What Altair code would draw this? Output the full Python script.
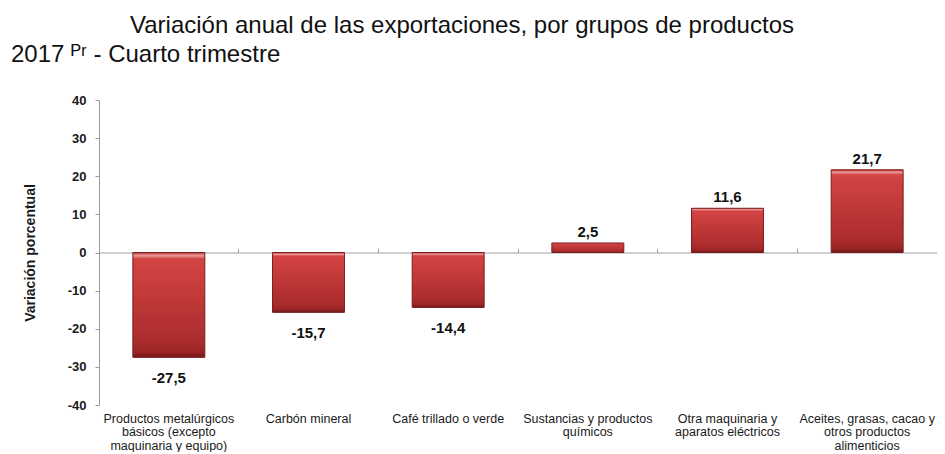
import altair as alt
import pandas as pd

categories = [
    "Productos metalúrgicos|básicos (excepto|maquinaria y equipo)",
    "Carbón mineral",
    "Café trillado o verde",
    "Sustancias y productos|químicos",
    "Otra maquinaria y|aparatos eléctricos",
    "Aceites, grasas, cacao y|otros productos|alimenticios",
]
values = [-27.5, -15.7, -14.4, 2.5, 11.6, 21.7]
y_ticks = [-40, -30, -20, -10, 0, 10, 20, 30, 40]

df = pd.DataFrame({"cat": categories, "val": values})
df["lbl"] = [f"{v:.1f}".replace(".", ",") for v in values]

FONT = "Liberation Sans"
W, H = 838, 305
P_IN = 0.485

xscale = alt.Scale(domain=categories, paddingInner=P_IN, paddingOuter=P_IN / 2)
yscale = alt.Scale(domain=[-40, 40], nice=False, zero=False)
yaxis = alt.Axis(
    values=y_ticks, title="Variación porcentual", grid=False,
    domainColor="#9a9a9a", tickColor="#9a9a9a", tickSize=4,
    labelFont=FONT, labelFontSize=13, labelFontWeight="bold", labelColor="#1a1a1a",
    labelPadding=9, labelExpr="'' + datum.value",
    titleFont=FONT, titleFontSize=14, titleFontWeight="bold",
    titleColor="#1a1a1a", titlePadding=30,
)

base = alt.Chart(df)

grad = alt.Gradient(
    gradient="linear", x1=0, x2=0, y1=0, y2=1,
    stops=[
        alt.GradientStop(offset=0, color="#b53232"),
        alt.GradientStop(offset=0.03, color="#ec9a9a"),
        alt.GradientStop(offset=0.06, color="#d44444"),
        alt.GradientStop(offset=0.85, color="#ab2c2c"),
        alt.GradientStop(offset=0.95, color="#9a2424"),
        alt.GradientStop(offset=1, color="#701818"),
    ],
)

bars = base.mark_bar(color=grad, stroke="#7a1c1c", strokeWidth=1).encode(
    x=alt.X("cat:N", sort=categories, scale=xscale, title=None,
            axis=alt.Axis(labelAngle=0, domain=False, ticks=False, labelPadding=7,
                          labelFont=FONT, labelFontSize=12.5, labelColor="#1a1a1a",
                          labelLimit=0, labelLineHeight=13.5, labelBaseline="top",
                          labelExpr="split(datum.label, '|')")),
    y=alt.Y("val:Q", scale=yscale, axis=yaxis),
)

pos = base.transform_filter("datum.val >= 0").mark_text(
    baseline="bottom", dy=-3, font=FONT, fontSize=15, fontWeight="bold", color="#111"
).encode(
    x=alt.X("cat:N", sort=categories, scale=xscale, title=None,
            axis=alt.Axis(labels=False, domain=True, ticks=True,
                          bandPosition=-P_IN / (2 * (1 - P_IN)),
                          offset=-H / 2, tickSize=4, domainColor="#a0a0a0",
                          tickColor="#a0a0a0")),
    y=alt.Y("val:Q", scale=yscale, axis=yaxis),
    text="lbl:N",
)

neg = base.transform_filter("datum.val < 0").mark_text(
    baseline="top", dy=14, font=FONT, fontSize=15, fontWeight="bold", color="#111"
).encode(
    x=alt.X("cat:N", sort=categories, scale=xscale, axis=None),
    y=alt.Y("val:Q", scale=yscale, axis=yaxis),
    text="lbl:N",
)

inner = (
    alt.layer(bars, pos, neg)
    .resolve_axis(x="independent")
    .properties(
        width=W, height=H,
        title=alt.TitleParams(
            text="2017 ᴾʳ - Cuarto trimestre",
            anchor="start", frame="group", dx=-88, offset=27,
            font=FONT, fontSize=24, fontWeight="normal", color="#111",
        ),
    )
)

chart = (
    alt.vconcat(inner)
    .properties(
        autosize=alt.AutoSizeParams(type="pad"),
        padding={"left": 3, "top": 6, "right": 0, "bottom": 0},
        title=alt.TitleParams(
            text="Variación anual de las exportaciones, por grupos de productos",
            anchor="start", frame="group", dx=31, offset=5,
            font=FONT, fontSize=24, fontWeight="normal", color="#111",
        ),
    )
    .configure_view(stroke=None)
)

chart.save("out.html", embed_options={"renderer": "svg", "actions": False})
